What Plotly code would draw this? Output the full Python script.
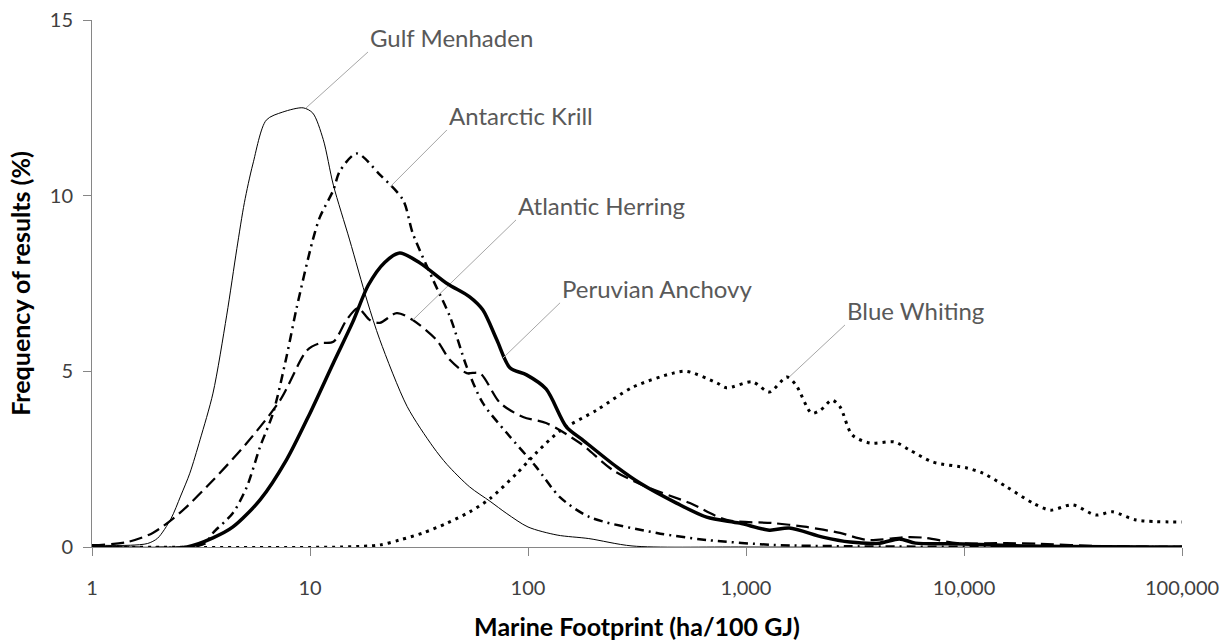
import math
import plotly.graph_objects as go

# Marine footprint (ha/100 GJ) vs frequency of results (%) for five species
menhaden_x = [1, 1.5, 1.8, 2.0, 2.3, 2.55, 2.81, 3.13, 3.59, 4.15, 4.62, 5.0, 5.47, 6.3, 7.5,
              9.3, 10.3, 11.5, 12.8, 15.2, 18.3, 20.9, 27.9, 36.7, 42.5, 54, 67, 80, 100, 136,
              190, 300, 1000, 100000]
menhaden_y = [0.05, 0.05, 0.1, 0.25, 0.8, 1.45, 2.1, 3.05, 4.38, 6.6, 8.5, 9.8, 10.9, 12.15,
              12.38, 12.5, 12.35, 11.6, 10.3, 8.74, 7.0, 5.9, 4.0, 2.85, 2.35, 1.71, 1.3, 0.95,
              0.57, 0.34, 0.24, 0.03, 0, 0]

krill_x = [1, 2.8, 3.3, 3.59, 4.43, 5.13, 5.9, 6.77, 7.8, 8.7, 10.3, 11.1, 12.8, 13.7, 16.4,
           20.9, 26.7, 29.6, 36.7, 43.9, 52.4, 62, 79.8, 109, 140, 192, 390, 660, 1330, 3000,
           100000]
krill_y = [0, 0, 0.1, 0.4, 0.97, 1.71, 2.85, 3.81, 5.41, 6.83, 8.74, 9.39, 10.16, 10.7, 11.2,
           10.6, 9.88, 8.93, 7.6, 6.55, 5.12, 4.1, 3.25, 2.28, 1.42, 0.85, 0.4, 0.2, 0.06, 0.02,
           0]

herring_x = [1, 1.45, 1.9, 2.53, 3.59, 5.13, 7.3, 9.7, 11.1, 12.8, 14.7, 16.6, 18.8, 20.9,
             25.0, 29.6, 38.1, 43.9, 52.4, 60.1, 74.5, 94.9, 121, 173, 245, 350, 553, 814,
             1330, 1900, 2700, 3600, 5500, 6700, 9300, 15700, 22000, 40000, 100000]
herring_y = [0.05, 0.14, 0.4, 0.97, 1.9, 2.96, 4.18, 5.6, 5.8, 5.84, 6.46, 6.8, 6.46, 6.38,
             6.66, 6.46, 5.89, 5.32, 4.95, 4.95, 4.1, 3.7, 3.53, 2.96, 2.19, 1.71, 1.25, 0.77,
             0.68, 0.57, 0.4, 0.2, 0.28, 0.26, 0.11, 0.11, 0.09, 0.03, 0.0]

anchovy_x = [1, 2.73, 3.59, 4.43, 5.9, 7.8, 10, 12.8, 15.7, 18.5, 22, 25.8, 32, 42.5, 54,
             62, 72, 82.6, 98.5, 121, 150, 178, 255, 326, 480, 660, 935, 1280, 1580, 2250,
             3000, 4100, 5050, 6000, 8900, 20000, 100000]
anchovy_y = [0, 0, 0.26, 0.57, 1.34, 2.48, 3.81, 5.24, 6.4, 7.45, 8.1, 8.37, 8.08, 7.5, 7.12,
             6.75, 5.89, 5.1, 4.9, 4.5, 3.42, 3.05, 2.28, 1.82, 1.25, 0.85, 0.68, 0.48, 0.54,
             0.28, 0.14, 0.11, 0.23, 0.11, 0.09, 0.03, 0]

whiting_x = [1, 14, 21, 25.8, 33, 42.5, 54, 67, 89, 110, 140, 207, 303, 464, 535, 735, 814,
             1070, 1280, 1540, 1700, 2000, 2200, 2480, 2700, 3070, 3700, 4800, 5640, 7200,
             10300, 12200, 15700, 20700, 24900, 31500, 40200, 48000, 61500, 100000]
whiting_y = [0, 0, 0.06, 0.2, 0.4, 0.68, 1.0, 1.38, 2.1, 2.7, 3.3, 3.9, 4.55, 4.95, 5.0, 4.67,
             4.53, 4.7, 4.41, 4.84, 4.6, 3.81, 3.9, 4.18, 3.99, 3.19, 2.96, 2.99, 2.76, 2.42,
             2.25, 2.1, 1.71, 1.25, 1.05, 1.2, 0.91, 1.0, 0.77, 0.71]

tick_vals = [1, 10, 100, 1000, 10000, 100000]
tick_text = ["1", "10", "100", "1,000", "10,000", "100,000"]

# name, x, y, line style, leader start (on curve), label anchor (log10 x, y)
series = [
    ("Gulf Menhaden", menhaden_x, menhaden_y, dict(color="black", width=1),
     (9.6, 12.5), (1.266, 14.09)),
    ("Antarctic Krill", krill_x, krill_y, dict(color="black", width=2.5, dash="9px,5px,2px,5px"),
     (23.3, 10.25), (1.628, 11.87)),
    ("Atlantic Herring", herring_x, herring_y, dict(color="black", width=2.25, dash="13px,6px"),
     (29.6, 6.46), (1.945, 9.31)),
    ("Peruvian Anchovy", anchovy_x, anchovy_y, dict(color="black", width=3.5),
     (76.8, 5.38), (2.147, 6.95)),
    ("Blue Whiting", whiting_x, whiting_y, dict(color="black", width=3, dash="3px,5px"),
     (1580, 4.84), (3.454, 6.32)),
]

fig = go.Figure()
annotations = []
for name, xs, ys, style, start, anchor in series:
    fig.add_trace(go.Scatter(x=xs, y=ys, mode="lines", name=name,
                             line=dict(shape="spline", smoothing=0.8, **style),
                             hoverinfo="x+y+name"))
    # thin grey leader line from the curve to its label
    fig.add_trace(go.Scatter(x=[start[0], 10 ** anchor[0]], y=[start[1], anchor[1]],
                             mode="lines", line=dict(color="#a6a6a6", width=1),
                             hoverinfo="skip", showlegend=False))
    annotations.append(dict(x=anchor[0], y=anchor[1], xref="x", yref="y", text=name,
                            showarrow=False, xanchor="left", yanchor="bottom",
                            xshift=0, yshift=-2,
                            font=dict(family="Lato", size=24, color="#595959")))

fig.update_layout(
    width=1231, height=642,
    margin=dict(l=92, r=49, t=20, b=95),
    paper_bgcolor="white", plot_bgcolor="white",
    showlegend=False,
    font=dict(family="Lato", color="#404040"),
    annotations=annotations,
    xaxis=dict(type="log", range=[0, 5], tickvals=tick_vals, ticktext=tick_text,
               automargin=False,
               showgrid=False, zeroline=False, showline=True, linecolor="#868686",
               linewidth=1, ticks="outside", ticklen=8, tickcolor="#868686",
               tickfont=dict(size=20, color="#404040"), ticklabelstandoff=15,
               title=dict(text="<b>Marine Footprint (ha/100 GJ)</b>",
                          font=dict(size=25, color="black"), standoff=20)),
    yaxis=dict(range=[0, 15], tickvals=[0, 5, 10, 15], showgrid=False, zeroline=False,
               automargin=False,
               showline=True, linecolor="#868686", linewidth=1, ticks="outside",
               ticklen=8, tickcolor="#868686",
               tickfont=dict(size=20, color="#404040"), ticklabelstandoff=6,
               title=dict(text="<b>Frequency of results (%)</b>",
                          font=dict(size=25, color="black"), standoff=12)),
)

fig.write_html("out.html")
